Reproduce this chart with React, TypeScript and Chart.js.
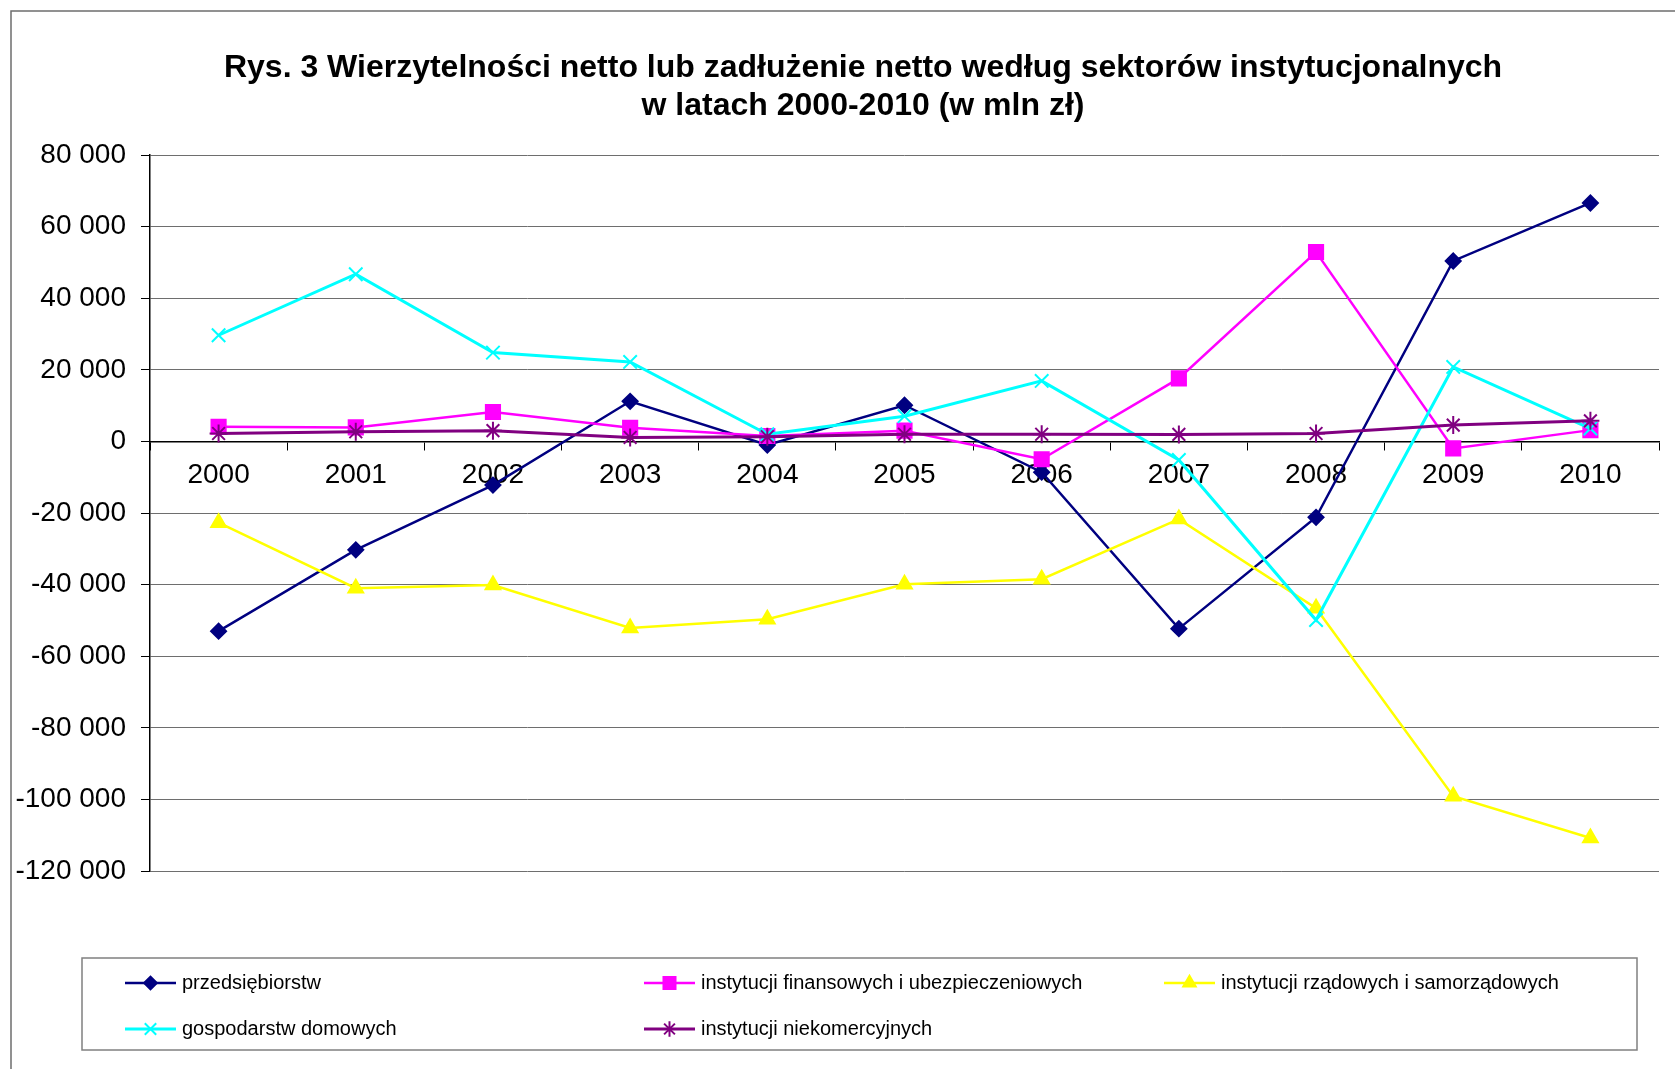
import React, { useEffect, useRef } from 'react';
import { Chart, registerables } from 'chart.js';
import { drawPoint } from 'chart.js/helpers';

Chart.register(...registerables);

const years = ['2000', '2001', '2002', '2003', '2004', '2005', '2006', '2007', '2008', '2009', '2010'];
const przedsiebiorstw = [-53000, -30300, -12200, 11200, -1000, 10100, -8600, -52300, -21200, 50400, 66600];
const finansowe = [4100, 3900, 8200, 3800, 1500, 3000, -5000, 17600, 52900, -1950, 3150];
const rzadowe = [-22700, -41000, -40100, -52100, -49700, -39900, -38500, -21700, -46600, -99100, -110800];
const gospodarstwa = [29650, 46700, 24800, 22200, 2000, 7050, 16900, -5200, -49900, 20800, 3600];
const niekomercyjne = [2200, 2700, 3000, 1100, 1300, 2000, 2000, 1950, 2200, 4550, 5750];

const seriesNames = [
  'przedsiębiorstw',
  'instytucji finansowych i ubezpieczeniowych',
  'instytucji rządowych i samorządowych',
  'gospodarstw domowych',
  'instytucji niekomercyjnych',
];
const seriesColors = ['#000080', '#FF00FF', '#FFFF00', '#00FFFF', '#800080'];
const seriesStyles = ['rectRot', 'rect', 'triangle', 'crossRot', 'star'];
const seriesRadius = [7.5, 10, 8.5, 9.5, 9];
const seriesLineWidth = [2.5, 2.5, 2.5, 3, 3];

const titleLines = [
  'Rys. 3 Wierzytelności netto lub zadłużenie netto według sektorów instytucjonalnych',
  'w latach 2000-2010 (w mln zł)',
];

const yMin = -120000;
const yMax = 80000;
const yStep = 20000;

const FONT = "Arial, 'Liberation Sans', sans-serif";

const fmt = (v: number) => {
  const s = Math.abs(v).toString().replace(/\B(?=(\d{3})+(?!\d))/g, ' ');
  return (v < 0 ? '-' : '') + s;
};

const decorPlugin = {
  id: 'decor',
  beforeDraw(chart: any) {
    const ctx = chart.ctx;
    ctx.save();
    ctx.fillStyle = '#ffffff';
    ctx.fillRect(0, 0, chart.width, chart.height);
    ctx.strokeStyle = '#6e6e6e';
    ctx.lineWidth = 1.5;
    ctx.beginPath();
    ctx.moveTo(11, chart.height + 10);
    ctx.lineTo(11, 11);
    ctx.lineTo(chart.width + 10, 11);
    ctx.stroke();
    ctx.restore();
  },
  afterDraw(chart: any) {
    const ctx = chart.ctx;
    ctx.save();
    // title
    ctx.fillStyle = '#000';
    ctx.font = `bold 32px ${FONT}`;
    ctx.textAlign = 'center';
    ctx.textBaseline = 'middle';
    ctx.fillText(titleLines[0], 863, 68);
    ctx.fillText(titleLines[1], 863, 106);

    // legend box
    ctx.strokeStyle = '#808080';
    ctx.lineWidth = 1.5;
    ctx.strokeRect(82, 958, 1555, 92);

    const cols = [125, 644, 1164];
    const rows = [983, 1029];
    ctx.font = `20px ${FONT}`;
    ctx.textAlign = 'left';
    ctx.textBaseline = 'middle';
    chart.data.datasets.forEach((ds: any, i: number) => {
      const x = cols[i % 3];
      const y = rows[Math.floor(i / 3)];
      ctx.strokeStyle = ds.borderColor;
      ctx.fillStyle = ds.borderColor;
      ctx.lineWidth = ds.borderWidth;
      ctx.beginPath();
      ctx.moveTo(x, y);
      ctx.lineTo(x + 51, y);
      ctx.stroke();
      ctx.lineWidth = ds.pointBorderWidth;
      drawPoint(ctx, { pointStyle: ds.pointStyle, radius: ds.pointRadius * 0.85, borderWidth: ds.pointBorderWidth, rotation: 0 } as any, x + 25.5, y);
      ctx.fillStyle = '#000';
      ctx.fillText(ds.label, x + 57, y);
    });
    ctx.restore();
  },
};

export default function App() {
  const canvasRef = useRef<HTMLCanvasElement | null>(null);

  useEffect(() => {
    if (!canvasRef.current) return;
    const seriesData = [przedsiebiorstw, finansowe, rzadowe, gospodarstwa, niekomercyjne];
    const chart = new Chart(canvasRef.current, {
      type: 'line',
      data: {
        labels: years,
        datasets: seriesData.map((d, i) => ({
          label: seriesNames[i],
          data: d,
          borderColor: seriesColors[i],
          backgroundColor: seriesColors[i],
          pointBackgroundColor: seriesColors[i],
          pointBorderColor: seriesColors[i],
          borderWidth: seriesLineWidth[i],
          pointStyle: seriesStyles[i] as any,
          pointRadius: seriesRadius[i],
          pointBorderWidth: 2,
          tension: 0,
          fill: false,
          order: 5 - i,
        })),
      },
      options: {
        responsive: true,
        maintainAspectRatio: false,
        animation: false,
        events: [],
        layout: { padding: { left: 0, right: 16, top: 155, bottom: 198 } },
        plugins: {
          legend: { display: false },
          title: { display: false },
          tooltip: { enabled: false },
        },
        scales: {
          x: {
            type: 'category',
            position: { y: 0 } as any,
            offset: true,
            grid: {
              display: true,
              offset: true,
              drawOnChartArea: false,
              drawTicks: true,
              tickLength: 8,
              tickColor: '#000',
              tickWidth: 1,
            },
            border: { display: true, color: '#000', width: 1.5 },
            ticks: {
              font: { family: FONT, size: 28 },
              color: '#000',
              padding: 9,
              maxRotation: 0,
              autoSkip: false,
            },
          },
          y: {
            type: 'linear',
            min: yMin,
            max: yMax,
            afterFit: (s: any) => {
              s.width = 150;
            },
            ticks: {
              stepSize: yStep,
              callback: (v: any) => fmt(Number(v)),
              font: { family: FONT, size: 28 },
              color: '#000',
              padding: 15,
            },
            grid: {
              color: '#6e6e6e',
              lineWidth: 1,
              tickLength: 9,
              tickColor: '#000',
            },
            border: { display: true, color: '#000', width: 1.5 },
          },
        },
      },
      plugins: [decorPlugin],
    });
    return () => chart.destroy();
  }, []);

  return (
    <div style={{ position: 'absolute', left: 0, top: 0, width: 1675, height: 1069, background: '#fff' }}>
      <canvas ref={canvasRef} />
    </div>
  );
}
